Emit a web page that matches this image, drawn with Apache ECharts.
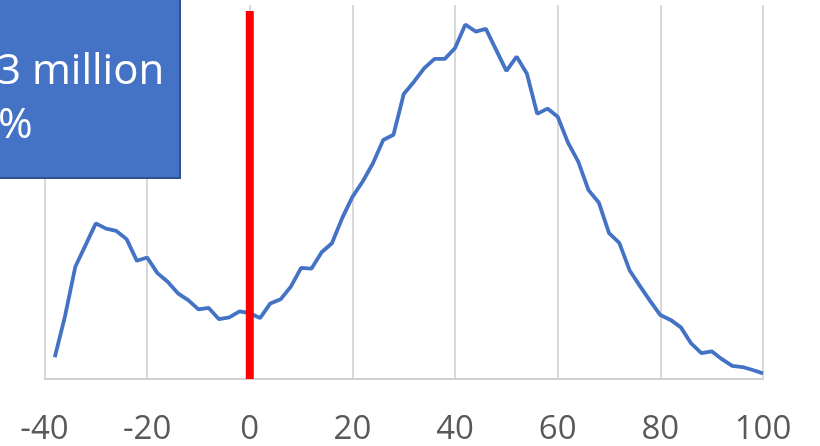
<!DOCTYPE html>
<html>
<head>
<meta charset="utf-8">
<script src="https://cdn.jsdelivr.net/npm/echarts@6/dist/echarts.min.js"></script>
<style>
  html, body { margin: 0; padding: 0; background: #ffffff; }
  #chart { width: 820px; height: 446px; }
</style>
</head>
<body>
<div id="chart"></div>
<script>
// x positions (step 2) and series values (arbitrary units, 0 = axis, 100 = top of plot)
const xValues = [-38,-36,-34,-32,-30,-28,-26,-24,-22,-20,-18,-16,-14,-12,-10,-8,-6,-4,-2,0,
                 2,4,6,8,10,12,14,16,18,20,22,24,26,28,30,32,34,36,38,40,
                 42,44,46,48,50,52,54,56,58,60,62,64,66,68,70,72,74,76,78,80,
                 82,84,86,88,90,92,94,96,98,100];
const yValues = [5.8,16.8,30.0,35.8,41.6,40.2,39.6,37.4,31.6,32.5,28.3,26.0,22.9,21.1,18.6,19.0,16.0,16.5,18.1,17.6,
                 16.3,20.2,21.3,24.7,29.7,29.5,33.9,36.3,43.0,48.7,52.8,57.7,63.9,65.3,76.2,79.5,83.1,85.6,85.6,88.5,
                 94.8,92.9,93.6,88.0,82.4,86.2,81.6,70.9,72.3,70.1,63.2,58.1,50.5,47.2,39.0,36.4,29.1,24.9,20.9,17.1,
                 15.8,13.8,9.5,6.9,7.4,5.3,3.5,3.2,2.4,1.5];
const markerX = [0, 0];
const markerY = [0, 98.4];
const xTicks = { min: -40, max: 100, interval: 20 };
const boxLines = ["3 million", "%"];

const lineData = xValues.map((x, i) => [x, yValues[i]]);
const markerData = markerX.map((x, i) => [x, markerY[i]]);

const chart = echarts.init(document.getElementById('chart'), null, { renderer: 'canvas' });
chart.setOption({
  animation: false,
  backgroundColor: '#ffffff',
  grid: { left: 44.5, right: 57, top: 5, bottom: 67, containLabel: false },
  xAxis: {
    type: 'value',
    min: xTicks.min, max: xTicks.max, interval: xTicks.interval,
    axisLine: { show: true, lineStyle: { color: '#D0D0D0', width: 2 } },
    axisTick: { show: false },
    axisLabel: { color: '#595959', fontFamily: '"Open Sans", sans-serif', fontSize: 33, margin: 34 },
    splitLine: { show: true, lineStyle: { color: '#D9D9D9', width: 2 } }
  },
  yAxis: {
    type: 'value', min: 0, max: 100, show: false,
    splitLine: { show: false }
  },
  series: [
    {
      type: 'line', data: lineData, symbol: 'none', smooth: false,
      lineStyle: { color: '#4472C4', width: 3.8 }, z: 3
    },
    {
      type: 'line', data: markerData, symbol: 'none',
      lineStyle: { color: '#FF0000', width: 8, cap: 'butt' }, z: 4
    }
  ],
  graphic: [
    {
      type: 'rect', z: 100,
      shape: { x: -10, y: -10, width: 190, height: 188 },
      style: { fill: '#4472C4', stroke: '#2F528F', lineWidth: 2 }
    },
    {
      type: 'text', z: 101, x: -3, y: 72,
      style: { text: boxLines[0], fill: '#ffffff', font: '42px "Open Sans", sans-serif', verticalAlign: 'middle', align: 'left' }
    },
    {
      type: 'text', z: 101, x: -2, y: 126,
      style: { text: boxLines[1], fill: '#ffffff', font: '42px "Open Sans", sans-serif', verticalAlign: 'middle', align: 'left' }
    }
  ]
});
</script>
</body>
</html>
